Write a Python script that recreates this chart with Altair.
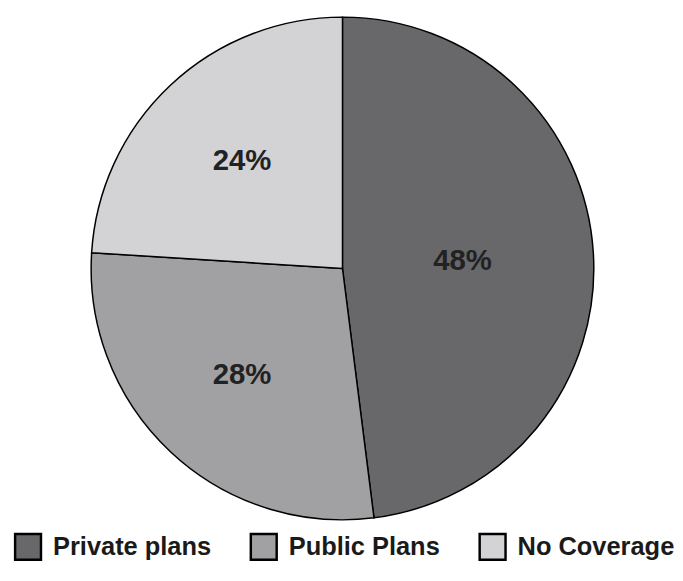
import altair as alt
import pandas as pd

categories = ["Private plans", "Public Plans", "No Coverage"]
shares = [48, 28, 24]
labels = ["48%", "28%", "24%"]
colors = ["#68686b", "#a1a1a4", "#d3d3d5"]
label_radius = [123, 150, 150]

df = pd.DataFrame({
    "category": categories,
    "share": shares,
    "label": labels,
    "order": list(range(len(categories))),
    "lr": label_radius,
})
df["start"] = df["share"].cumsum() - df["share"]
df["end"] = df["share"].cumsum()
df["mid"] = (df["start"] + df["end"]) / 2

CX, CY, R = 342, 259, 257
theta_scale = alt.Scale(domain=[0, 100], range=[0, 6.283185307179586])

color = alt.Color(
    "category:N",
    scale=alt.Scale(domain=categories, range=colors),
    sort=categories,
    legend=alt.Legend(
        title=None,
        orient="none",
        legendX=6,
        legendY=529,
        direction="horizontal",
        symbolType="square",
        symbolSize=700,
        symbolStrokeColor="black",
        symbolStrokeWidth=2.5,
        symbolOpacity=1,
        labelFont="Liberation Sans",
        labelFontWeight="bold",
        labelFontSize=26,
        labelColor="#1a1a1a",
        labelOffset=11,
        columnPadding=35,
        labelLimit=400,
        padding=0,
    ),
)

arcs = alt.Chart(df).mark_arc(radius=R, stroke="black", strokeWidth=1.5).encode(
    theta=alt.Theta("start:Q", scale=theta_scale),
    theta2="end:Q",
    x=alt.value(CX),
    y=alt.value(CY),
    color=color,
)

text = alt.Chart(df).mark_text(
    font="Liberation Sans", fontWeight="bold", fontSize=30, color="#222222"
).encode(
    theta=alt.Theta("mid:Q", scale=theta_scale),
    radius=alt.Radius("lr:Q", scale=None),
    x=alt.value(CX),
    y=alt.value(CY),
    text="label:N",
)

chart = (arcs + text).properties(width=664, height=556, padding=0).configure_view(stroke=None)

chart.save("out.html", embed_options={"renderer": "svg", "actions": False})
